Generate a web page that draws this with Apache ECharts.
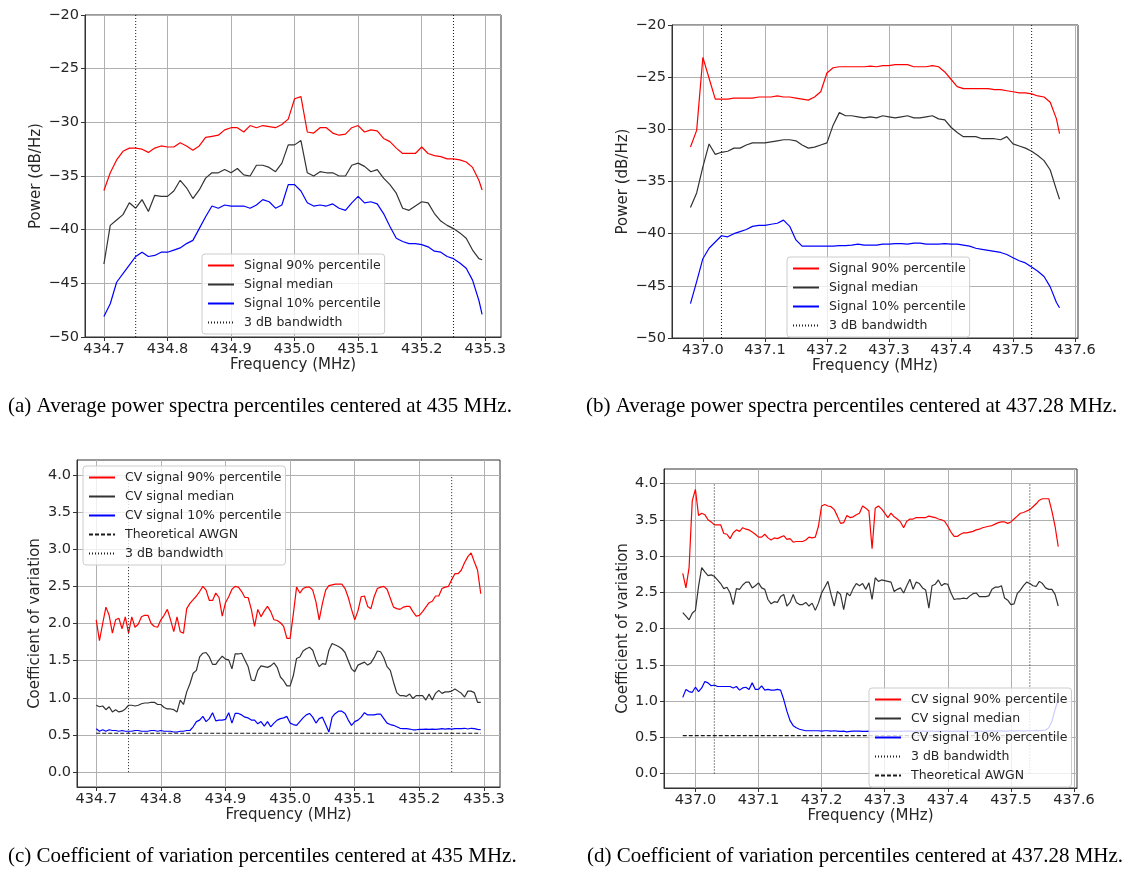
<!DOCTYPE html>
<html><head><meta charset="utf-8">
<script src="https://cdn.jsdelivr.net/npm/echarts@6/dist/echarts.min.js"></script>
<style>html,body{margin:0;padding:0;background:#fff}#c{width:1129px;height:869px}</style>
</head><body><div id="c"></div>
<script>
// ---------- Data ----------
const freqA = [434.7,434.71,434.72,434.73,434.74,434.75,434.76,434.77,434.78,434.79,434.8,434.81,434.82,434.83,434.84,434.85,434.86,434.87,434.88,434.89,434.9,434.91,434.92,434.93,434.94,434.95,434.96,434.97,434.98,434.99,435,435.01,435.02,435.03,435.04,435.05,435.06,435.07,435.08,435.09,435.1,435.11,435.12,435.13,435.14,435.15,435.16,435.17,435.18,435.19,435.2,435.21,435.22,435.23,435.24,435.25,435.26,435.27,435.28,435.29,435.295];
const redA = [-36.35,-34.7,-33.5,-32.7,-32.4,-32.4,-32.5,-32.8,-32.4,-32.2,
-32.3,-32.3,-31.9,-32.2,-32.6,-32.2,-31.4,-31.3,-31.2,-30.7,
-30.5,-30.5,-30.9,-30.3,-30.5,-30.3,-30.4,-30.5,-30.2,-29.7,
-27.8,-27.6,-30.9,-31.0,-30.5,-30.5,-31.0,-31.2,-31.1,-30.5,
-30.3,-30.9,-30.7,-30.8,-31.5,-31.8,-32.4,-32.9,-32.9,-32.9,
-32.3,-32.9,-33.1,-33.2,-33.4,-33.4,-33.5,-33.7,-34.2,-35.4,-36.3];
const medA = [-43.2,-39.6,-39.1,-38.6,-37.5,-38.0,-37.2,-38.3,-36.8,-36.9,
-36.9,-36.4,-35.4,-36.1,-37.1,-36.3,-35.2,-34.7,-34.7,-34.4,
-34.7,-34.3,-34.9,-35.0,-34.0,-34.0,-34.2,-34.6,-33.8,-32.1,
-32.1,-31.7,-34.7,-35.0,-34.6,-34.7,-34.7,-35.0,-35.0,-34.0,
-33.8,-34.1,-34.6,-34.4,-35.2,-35.8,-36.6,-38.0,-38.2,-37.8,
-37.4,-37.5,-38.5,-39.2,-39.6,-39.9,-40.3,-40.8,-41.9,-42.7,-42.8];
const blueA = [-48.1,-46.9,-44.9,-44.1,-43.3,-42.5,-42.1,-42.5,-42.4,-42.1,
-42.1,-41.9,-41.7,-41.3,-41.0,-39.9,-38.8,-37.8,-38.0,-37.7,
-37.8,-37.8,-37.8,-38.0,-37.7,-37.2,-37.4,-38.0,-37.7,-35.8,
-35.8,-36.4,-37.5,-37.8,-37.7,-37.8,-37.6,-38.0,-38.2,-37.5,
-36.9,-37.5,-37.4,-37.6,-38.5,-39.7,-40.8,-41.1,-41.3,-41.3,
-41.4,-41.6,-42.0,-42.1,-42.5,-42.7,-43.1,-43.6,-44.7,-46.6,-47.9];

const freqB = [436.98,436.99,437,437.01,437.02,437.03,437.04,437.05,437.06,437.07,437.08,437.09,437.1,437.11,437.12,437.13,437.14,437.15,437.16,437.17,437.18,437.19,437.2,437.21,437.22,437.23,437.24,437.25,437.26,437.27,437.28,437.29,437.3,437.31,437.32,437.33,437.34,437.35,437.36,437.37,437.38,437.39,437.4,437.41,437.42,437.43,437.44,437.45,437.46,437.47,437.48,437.49,437.5,437.51,437.52,437.53,437.54,437.55,437.56,437.57,437.575];
const redB = [-31.7,-30.1,-23.1,-25.1,-27.1,-27.1,-27.1,-27.0,-27.0,-27.0,
-27.0,-26.9,-26.9,-26.9,-26.8,-26.9,-26.9,-27.0,-27.1,-27.2,
-26.9,-26.4,-24.6,-24.1,-24.0,-24.0,-24.0,-24.0,-24.0,-23.95,
-24.0,-23.9,-23.9,-23.8,-23.8,-23.8,-24.0,-24.0,-24.0,-23.9,
-24.0,-24.5,-25.2,-25.9,-26.1,-26.1,-26.1,-26.1,-26.1,-26.2,
-26.2,-26.3,-26.4,-26.5,-26.5,-26.6,-26.8,-26.9,-27.4,-29.0,-30.4];
const medB = [-37.5,-36.1,-33.6,-31.4,-32.4,-32.2,-32.1,-31.8,-31.8,-31.5,
-31.3,-31.3,-31.3,-31.2,-31.1,-31.0,-31.0,-31.1,-31.5,-31.8,
-31.7,-31.5,-31.3,-29.6,-28.4,-28.7,-28.7,-28.8,-28.9,-28.8,
-28.9,-28.7,-28.8,-28.9,-28.8,-28.7,-28.9,-28.9,-28.8,-28.7,
-29.0,-29.1,-29.8,-30.3,-30.7,-30.7,-30.7,-30.9,-30.9,-30.9,
-31.0,-30.7,-31.4,-31.6,-31.8,-32.1,-32.5,-33.0,-33.9,-35.8,-36.7];
const blueB = [-46.7,-44.6,-42.4,-41.4,-40.8,-40.2,-40.3,-40.0,-39.8,-39.6,
-39.3,-39.2,-39.2,-39.1,-39.0,-38.7,-39.3,-40.6,-41.2,-41.2,
-41.2,-41.2,-41.2,-41.2,-41.15,-41.15,-41.1,-41.0,-41.1,-41.1,
-41.1,-41.0,-41.0,-40.95,-40.95,-41.0,-40.9,-40.9,-41.0,-41.0,
-41.0,-40.95,-41.0,-41.0,-41.1,-41.2,-41.4,-41.5,-41.6,-41.7,
-41.8,-42.0,-42.3,-42.6,-42.8,-43.2,-43.6,-44.1,-45.1,-46.6,-47.1];

const freqC = [434.7,434.705,434.71,434.715,434.72,434.725,434.73,434.735,434.74,434.745,
434.75,434.755,434.76,434.765,434.77,434.775,434.78,434.785,434.79,434.795,
434.8,434.805,434.81,434.815,434.82,434.825,434.83,434.835,434.84,434.845,
434.85,434.855,434.86,434.865,434.87,434.875,434.88,434.885,434.89,434.895,
434.9,434.905,434.91,434.915,434.92,434.925,434.93,434.935,434.94,434.945,
434.95,434.955,434.96,434.965,434.97,434.975,434.98,434.985,434.99,434.995,
435,435.005,435.01,435.015,435.02,435.025,435.03,435.035,435.04,435.045,
435.05,435.055,435.06,435.065,435.07,435.075,435.08,435.085,435.09,435.095,
435.1,435.105,435.11,435.115,435.12,435.125,435.13,435.135,435.14,435.145,
435.15,435.155,435.16,435.165,435.17,435.175,435.18,435.185,435.19,435.195,
435.2,435.205,435.21,435.215,435.22,435.225,435.23,435.235,435.24,435.245,
435.25,435.255,435.26,435.265,435.27,435.275,435.28,435.285,435.29,435.295];
const redC = [2.05,1.77,2.00,2.22,2.11,1.87,2.05,2.07,1.93,2.09,
1.87,2.09,1.95,1.99,2.09,2.11,2.11,2.00,1.96,1.95,
2.05,2.11,2.19,2.05,1.89,2.09,1.89,1.87,2.20,2.27,
2.32,2.37,2.43,2.50,2.45,2.31,2.31,2.41,2.35,2.10,
2.28,2.36,2.46,2.50,2.49,2.43,2.35,2.35,2.19,1.96,
2.19,2.09,2.17,2.23,2.16,2.05,2.04,2.01,1.96,1.80,
1.80,2.13,2.49,2.41,2.47,2.49,2.49,2.45,2.29,2.05,
2.27,2.45,2.51,2.52,2.53,2.53,2.53,2.47,2.35,2.19,
2.05,2.17,2.36,2.37,2.23,2.20,2.36,2.47,2.49,2.50,
2.46,2.34,2.22,2.20,2.19,2.22,2.23,2.23,2.16,2.10,
2.11,2.16,2.22,2.28,2.30,2.37,2.37,2.47,2.49,2.50,
2.59,2.67,2.67,2.72,2.82,2.90,2.95,2.83,2.72,2.40];
const medC = [0.90,0.88,0.89,0.84,0.88,0.81,0.84,0.81,0.82,0.85,
0.90,0.90,0.89,0.90,0.92,0.93,0.93,0.94,0.94,0.91,
0.91,0.87,0.85,0.85,0.84,0.81,0.97,0.91,1.08,1.19,
1.33,1.37,1.55,1.60,1.61,1.55,1.45,1.45,1.51,1.56,
1.52,1.51,1.39,1.59,1.59,1.60,1.51,1.42,1.24,1.23,
1.37,1.43,1.42,1.41,1.43,1.47,1.41,1.28,1.23,1.16,
1.16,1.30,1.53,1.55,1.63,1.66,1.68,1.64,1.51,1.42,
1.46,1.45,1.64,1.73,1.71,1.69,1.66,1.61,1.50,1.39,
1.35,1.44,1.46,1.48,1.44,1.47,1.54,1.63,1.62,1.54,
1.42,1.37,1.21,1.07,1.03,1.03,1.02,1.05,0.99,1.03,
1.03,1.03,0.97,1.05,0.97,1.06,1.10,1.06,1.08,1.08,
1.09,1.12,1.09,1.06,1.01,1.09,1.09,1.07,0.94,0.94];
const blueC = [0.585,0.55,0.57,0.55,0.57,0.56,0.56,0.55,0.56,0.55,
0.55,0.55,0.56,0.56,0.55,0.55,0.55,0.56,0.56,0.55,
0.56,0.55,0.55,0.55,0.54,0.54,0.55,0.55,0.56,0.56,
0.61,0.68,0.70,0.75,0.68,0.72,0.80,0.69,0.70,0.70,
0.71,0.80,0.66,0.79,0.79,0.77,0.74,0.73,0.70,0.70,
0.65,0.68,0.62,0.68,0.61,0.66,0.70,0.72,0.73,0.75,
0.66,0.64,0.63,0.68,0.73,0.77,0.79,0.74,0.66,0.72,
0.74,0.64,0.54,0.74,0.79,0.82,0.82,0.79,0.70,0.63,
0.68,0.70,0.74,0.80,0.77,0.77,0.77,0.78,0.78,0.72,
0.66,0.64,0.63,0.61,0.59,0.585,0.585,0.58,0.57,0.57,
0.575,0.575,0.58,0.575,0.58,0.575,0.58,0.585,0.58,0.585,
0.58,0.585,0.585,0.585,0.59,0.58,0.59,0.585,0.575,0.57];

const freqD = [436.98,436.985,436.99,436.995,437,437.005,437.01,437.015,437.02,437.025,
437.03,437.035,437.04,437.045,437.05,437.055,437.06,437.065,437.07,437.075,
437.08,437.085,437.09,437.095,437.1,437.105,437.11,437.115,437.12,437.125,
437.13,437.135,437.14,437.145,437.15,437.155,437.16,437.165,437.17,437.175,
437.18,437.185,437.19,437.195,437.2,437.205,437.21,437.215,437.22,437.225,
437.23,437.235,437.24,437.245,437.25,437.255,437.26,437.265,437.27,437.275,
437.28,437.285,437.29,437.295,437.3,437.305,437.31,437.315,437.32,437.325,
437.33,437.335,437.34,437.345,437.35,437.355,437.36,437.365,437.37,437.375,
437.38,437.385,437.39,437.395,437.4,437.405,437.41,437.415,437.42,437.425,
437.43,437.435,437.44,437.445,437.45,437.455,437.46,437.465,437.47,437.475,
437.48,437.485,437.49,437.495,437.5,437.505,437.51,437.515,437.52,437.525,
437.53,437.535,437.54,437.545,437.55,437.555,437.56,437.565,437.57,437.575];
const redD = [2.76,2.56,2.84,3.76,3.92,3.56,3.59,3.57,3.50,3.47,
3.43,3.43,3.43,3.31,3.30,3.24,3.32,3.36,3.34,3.39,
3.37,3.36,3.33,3.30,3.26,3.26,3.30,3.25,3.22,3.25,
3.24,3.26,3.28,3.23,3.24,3.19,3.20,3.20,3.20,3.22,
3.26,3.25,3.26,3.41,3.69,3.71,3.69,3.68,3.64,3.55,
3.45,3.46,3.56,3.53,3.54,3.57,3.59,3.69,3.66,3.62,
3.10,3.66,3.69,3.65,3.59,3.53,3.59,3.54,3.51,3.47,
3.39,3.48,3.51,3.51,3.53,3.53,3.53,3.53,3.55,3.54,
3.53,3.51,3.50,3.48,3.41,3.33,3.27,3.27,3.30,3.32,
3.32,3.33,3.34,3.36,3.37,3.39,3.40,3.41,3.42,3.44,
3.46,3.47,3.47,3.45,3.47,3.51,3.55,3.59,3.60,3.62,
3.64,3.68,3.72,3.77,3.79,3.79,3.79,3.62,3.41,3.13];
const medD = [2.22,2.17,2.12,2.21,2.25,2.58,2.84,2.78,2.73,2.74,
2.72,2.67,2.62,2.55,2.57,2.49,2.33,2.55,2.54,2.60,
2.64,2.64,2.56,2.59,2.63,2.56,2.54,2.40,2.34,2.37,
2.36,2.44,2.47,2.31,2.36,2.47,2.36,2.33,2.33,2.36,
2.31,2.35,2.25,2.35,2.49,2.57,2.65,2.47,2.31,2.51,
2.47,2.26,2.49,2.45,2.55,2.62,2.59,2.62,2.54,2.63,
2.40,2.70,2.65,2.67,2.66,2.65,2.64,2.51,2.54,2.56,
2.49,2.59,2.68,2.54,2.64,2.62,2.56,2.53,2.28,2.59,
2.61,2.67,2.59,2.62,2.61,2.49,2.40,2.41,2.41,2.42,
2.41,2.45,2.48,2.49,2.44,2.44,2.44,2.45,2.54,2.57,
2.57,2.59,2.42,2.39,2.33,2.34,2.48,2.53,2.59,2.64,
2.62,2.59,2.58,2.65,2.62,2.56,2.54,2.54,2.47,2.31];
const blueD = [1.05,1.16,1.13,1.12,1.19,1.13,1.18,1.27,1.25,1.21,
1.22,1.20,1.20,1.20,1.20,1.20,1.18,1.20,1.15,1.18,
1.19,1.16,1.25,1.16,1.16,1.21,1.15,1.16,1.15,1.15,
1.16,1.15,1.02,0.86,0.73,0.66,0.63,0.61,0.60,0.59,
0.59,0.59,0.59,0.59,0.585,0.59,0.59,0.585,0.59,0.585,
0.58,0.585,0.575,0.58,0.585,0.585,0.585,0.58,0.58,0.585,
0.58,0.58,0.585,0.585,0.58,0.58,0.585,0.585,0.58,0.58,
0.585,0.585,0.585,0.58,0.585,0.585,0.585,0.58,0.585,0.585,
0.58,0.585,0.58,0.585,0.585,0.58,0.585,0.585,0.58,0.585,
0.585,0.58,0.585,0.585,0.585,0.58,0.585,0.585,0.59,0.585,
0.585,0.59,0.585,0.585,0.59,0.585,0.59,0.59,0.585,0.59,
0.59,0.59,0.595,0.59,0.595,0.60,0.63,0.72,0.88,1.02];

const awgnCV = 0.523;                 // theoretical AWGN coefficient of variation
const bandA = [434.75, 435.25];       // 3 dB bandwidth edges
const bandB = [437.03, 437.53];
const powerSpan = [-50, -20];
const cvSpan = [0, 4];

const xTicksA = [434.7,434.8,434.9,435.0,435.1,435.2,435.3];
const xTicksB = [437.0,437.1,437.2,437.3,437.4,437.5,437.6];
const yTicksPow = [-50,-45,-40,-35,-30,-25,-20];
const yTicksCV = [0,0.5,1,1.5,2,2.5,3,3.5,4];

const namesPow = ['Signal 90% percentile','Signal median','Signal 10% percentile','3 dB bandwidth'];
const namesCVc = ['CV signal 90% percentile','CV signal median','CV signal 10% percentile','Theoretical AWGN','3 dB bandwidth'];
const namesCVd = ['CV signal 90% percentile','CV signal median','CV signal 10% percentile','3 dB bandwidth','Theoretical AWGN'];

const captions = [
  '(a) Average power spectra percentiles centered at 435 MHz.',
  '(b) Average power spectra percentiles centered at 437.28 MHz.',
  '(c) Coefficient of variation percentiles centered at 435 MHz.',
  '(d) Coefficient of variation percentiles centered at 437.28 MHz.'
];

// ---------- Styles ----------
const FONT = 'DejaVu Sans';
const TXT = '#262626';
const TICK_FS = 14.5, NAME_FS = 15, LEG_FS = 12.5;
const RED = '#ff0000', MED = '#333333', BLUE = '#0000ff', BLK = '#1a1a1a';
const DOT = [1, 2], DASH = [4, 2];

function pairs(xs, ys){ return xs.map((x,i)=>[x, ys[i]]); }
const minusFmt = v => (v < 0 ? '\u2212' : '') + Math.abs(v);
const fix1 = v => v.toFixed(1);

function xAx(gi, min, max, ticks){
  return {type:'value', gridIndex:gi, min:min, max:max,
    name:'Frequency (MHz)', nameLocation:'middle', nameGap:21,
    nameTextStyle:{fontFamily:FONT,fontSize:NAME_FS,color:TXT},
    axisLine:{show:true,onZero:false,lineStyle:{color:'#333',width:1}},
    axisTick:{show:true,customValues:ticks,length:4,lineStyle:{color:'#333'}},
    axisLabel:{customValues:ticks,formatter:fix1,fontFamily:FONT,fontSize:TICK_FS,color:TXT,margin:5},
    splitLine:{show:true,lineStyle:{color:'#b0b0b0',width:1}}};
}
function yAx(gi, min, max, ticks, name, fmt, gap){
  return {type:'value', gridIndex:gi, min:min, max:max,
    name:name, nameLocation:'middle', nameGap:gap,
    nameTextStyle:{fontFamily:FONT,fontSize:NAME_FS,color:TXT},
    axisLine:{show:true,onZero:false,lineStyle:{color:'#333',width:1}},
    axisTick:{show:true,customValues:ticks,length:4,lineStyle:{color:'#333'}},
    axisLabel:{customValues:ticks,formatter:fmt,fontFamily:FONT,fontSize:TICK_FS,color:TXT,margin:6},
    splitLine:{show:true,lineStyle:{color:'#b0b0b0',width:1}}};
}
function ln(name, data, color, ai, type, width){
  return {type:'line', name:name, xAxisIndex:ai, yAxisIndex:ai, data:data,
    symbol:'none', silent:true, animation:false, z:3,
    lineStyle:{color:color, width:width||1.2, type:type||'solid'}, itemStyle:{color:color}};
}
function vlines(name, xs, span, ai){
  return xs.map(x => ln(name, [[x, span[0]], [x, span[1]]], BLK, ai, DOT, 1));
}
function legend(left, top, names){
  return {orient:'vertical', left:left, top:top, data:names,
    backgroundColor:'rgba(255,255,255,0.8)', borderColor:'#cccccc', borderWidth:1, borderRadius:3,
    padding:[5,4,5,5], itemWidth:26, itemHeight:10, itemGap:6, selectedMode:false,
    itemStyle:{opacity:0},
    textStyle:{fontFamily:FONT,fontSize:LEG_FS,color:TXT,padding:[0,0,0,5]}};
}

const series = [].concat(
  [ln(namesPow[0], pairs(freqA, redA), RED, 0), ln(namesPow[1], pairs(freqA, medA), MED, 0), ln(namesPow[2], pairs(freqA, blueA), BLUE, 0)],
  vlines('3 dB bandwidth', bandA, powerSpan, 0),
  [ln(namesPow[0], pairs(freqB, redB), RED, 1), ln(namesPow[1], pairs(freqB, medB), MED, 1), ln(namesPow[2], pairs(freqB, blueB), BLUE, 1)],
  vlines('3 dB bandwidth', bandB, powerSpan, 1),
  [ln(namesCVc[0], pairs(freqC, redC), RED, 2), ln(namesCVc[1], pairs(freqC, medC), MED, 2), ln(namesCVc[2], pairs(freqC, blueC), BLUE, 2),
   ln('Theoretical AWGN', [[freqC[0], awgnCV], [freqC[freqC.length-1], awgnCV]], BLK, 2, DASH, 1.2)],
  vlines('3 dB bandwidth', bandA, cvSpan, 2),
  [ln(namesCVd[0], pairs(freqD, redD), RED, 3), ln(namesCVd[1], pairs(freqD, medD), MED, 3), ln(namesCVd[2], pairs(freqD, blueD), BLUE, 3),
   ln('Theoretical AWGN', [[freqD[0], awgnCV], [freqD[freqD.length-1], awgnCV]], BLK, 3, DASH, 1.2)],
  vlines('3 dB bandwidth', bandB, cvSpan, 3)
);

const capStyle = t => ({text:t, font:'21px "Liberation Serif"', fill:'#000'});

const option = {
  backgroundColor:'#ffffff',
  animation:false,
  grid:[
    {left:85, top:15, width:416, height:322, show:true, borderColor:'#333', borderWidth:1},
    {left:672, top:25, width:406, height:313, show:true, borderColor:'#333', borderWidth:1},
    {left:77, top:460, width:423, height:327, show:true, borderColor:'#333', borderWidth:1},
    {left:664, top:469, width:413, height:319, show:true, borderColor:'#333', borderWidth:1}
  ],
  xAxis:[
    xAx(0, 434.67025, 435.32475, xTicksA),
    xAx(1, 436.95025, 437.60475, xTicksB),
    xAx(2, 434.67025, 435.32475, xTicksA),
    xAx(3, 436.95025, 437.60475, xTicksB)
  ],
  yAxis:[
    yAx(0, -50, -20, yTicksPow, 'Power (dB/Hz)', minusFmt, 41),
    yAx(1, -50, -20, yTicksPow, 'Power (dB/Hz)', minusFmt, 41),
    yAx(2, -0.2, 4.2, yTicksCV, 'Coefficient of variation', fix1, 34),
    yAx(3, -0.2, 4.2, yTicksCV, 'Coefficient of variation', fix1, 32)
  ],
  legend:[
    legend(202, 254, namesPow),
    legend(787, 257, namesPow),
    legend(83, 466, namesCVc),
    legend(869, 688, namesCVd)
  ],
  graphic:[
    {type:'text', left:8, top:396, style:capStyle(captions[0])},
    {type:'text', left:586, top:396, style:capStyle(captions[1])},
    {type:'text', left:8, top:846, style:capStyle(captions[2])},
    {type:'text', left:587, top:846, style:capStyle(captions[3])}
  ],
  series:series
};

const chart = echarts.init(document.getElementById('c'), null, {renderer:'canvas'});
chart.setOption(option);
</script></body></html>
